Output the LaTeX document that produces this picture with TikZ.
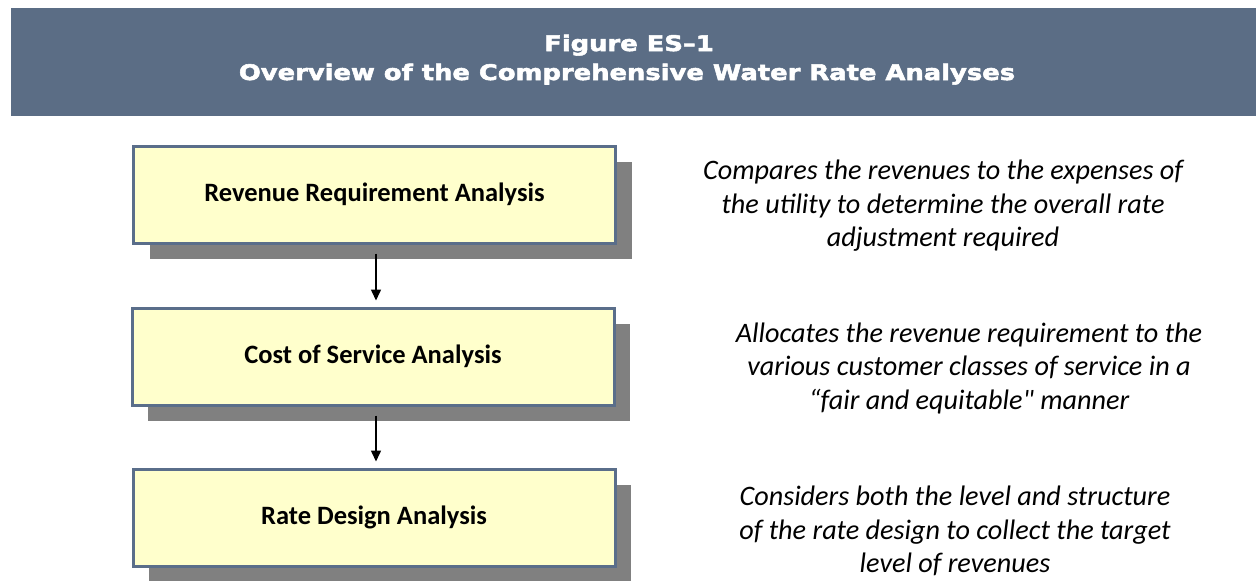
\documentclass[tikz,border=0pt]{standalone}
\usepackage{fontspec}
\setmainfont{Carlito}
\newfontfamily\carlnomap{Carlito}
\newfontfamily\headfont[FakeBold=2.5,FakeStretch=1.2]{DejaVu Sans Bold}
\usetikzlibrary{shadows,arrows.meta}
\definecolor{headblue}{HTML}{5B6D85}
\definecolor{boxborder}{HTML}{5A6E8A}
\definecolor{boxfill}{HTML}{FFFFCC}
\definecolor{shadowgray}{HTML}{808080}
\tikzset{
  stepbox/.style={draw=boxborder, line width=3pt, fill=boxfill,
    minimum width=482pt, minimum height=97pt, inner sep=0pt,
    font=\fontsize{26.5}{30}\selectfont\bfseries,
    copy shadow={shadow xshift=16pt, shadow yshift=-16pt, fill=shadowgray, draw=none}},
  desc/.style={align=center, font=\fontsize{28.2}{33.5}\selectfont\itshape, inner sep=0pt},
  headtext/.style={text=white, font=\headfont\fontsize{21.5}{28}\selectfont, inner sep=0pt, anchor=base},
  flow/.style={-{Triangle[length=11pt,width=10pt]}, line width=1.5pt, shorten <=9pt, shorten >=6pt}
}
\begin{document}
\begin{tikzpicture}[x=1pt,y=-1pt]
\useasboundingbox (0,0) rectangle (1256,581);
\fill[headblue] (11,8) rectangle (1256,116);
\node[headtext] (title1) at (629,51) {Figure ES–1};
\node[headtext] (title2) at (627,80) {Overview of the Comprehensive Water Rate Analyses};
\node[stepbox] (a) at (374.5,194.5) {Revenue Requirement Analysis};
\node[stepbox] (b) at (373,356.5) {Cost of Service Analysis};
\node[stepbox] (c) at (374,517.5) {Rate Design Analysis};
\draw[flow] (a.south -| 376,0) -- (b.north -| 376,0);
\draw[flow] (b.south -| 376,0) -- (c.north -| 376,0);
\node[desc] (da) at (943,206) {Compares the revenues to the expenses of\\the utility to determine the overall rate\\adjustment required};
\node[desc] (db) at (969,368) {Allocates the revenue requirement to the\\various customer classes of service in a\\\textquotedblleft fair and equitable{\carlnomap\itshape "} manner};
\node[desc] (dc) at (955,531) {Considers both the level and structure\\of the rate design to collect the target\\level of revenues};
\end{tikzpicture}
\end{document}
